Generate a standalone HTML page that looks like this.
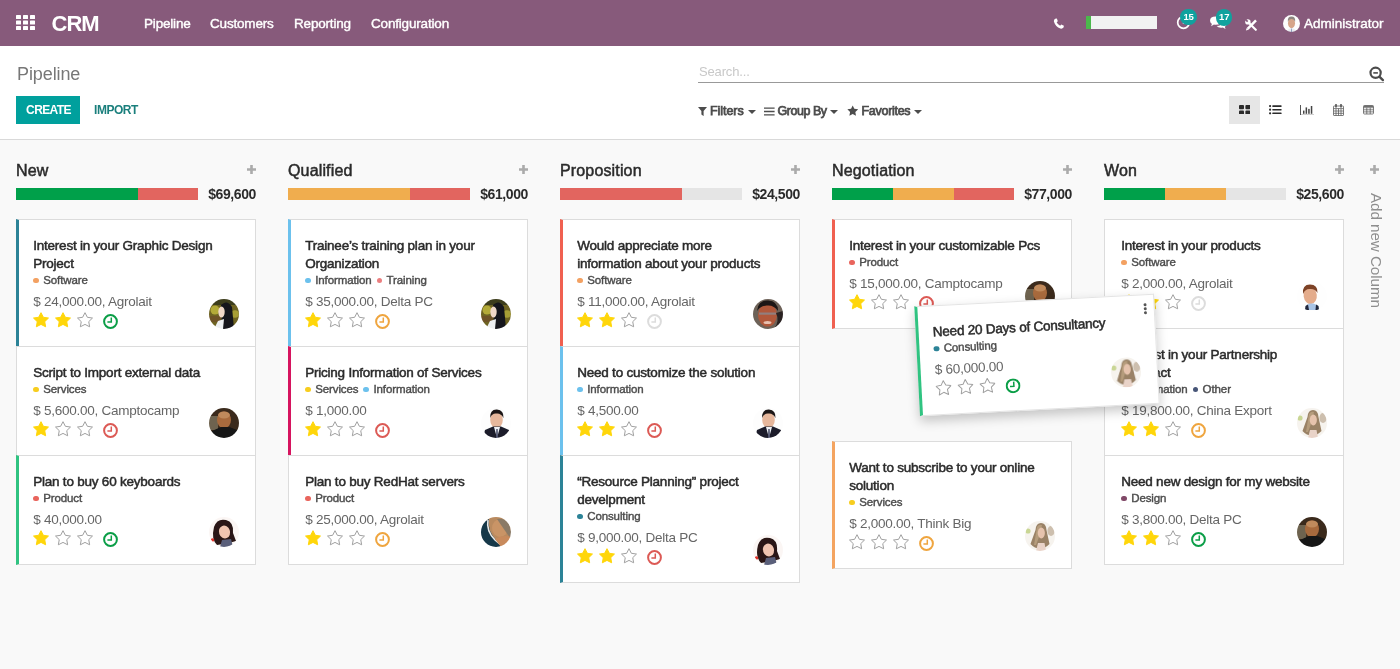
<!DOCTYPE html>
<html lang="en"><head><meta charset="utf-8"><title>Pipeline - CRM</title>
<style>
*{box-sizing:border-box;margin:0;padding:0}
html,body{width:1400px;height:669px;overflow:hidden;background:#f9f9f9;font-family:"Liberation Sans",sans-serif;font-size:13px;color:#4c4c4c}
.abs{position:absolute}
.nav{position:absolute;left:0;top:0;width:1400px;height:46px;background:#875A7B;color:#fff}
.nav .apps{position:absolute;left:16px;top:15px;width:19px;height:15px}
.nav .brand{position:absolute;left:51.5px;top:10.5px;font-size:22px;line-height:26px;font-weight:bold;letter-spacing:-1px}
.nav .mi{position:absolute;top:15px;font-size:13.5px;line-height:18px;white-space:nowrap;-webkit-text-stroke:0.4px #fff;letter-spacing:-0.18px}
.nav .usr{position:absolute;left:1304px;top:15px;font-size:13.5px;line-height:18px;-webkit-text-stroke:0.4px #fff}
.badge{position:absolute;width:16.4px;height:16.4px;border-radius:9px;background:#10A29E;color:#fff;font-size:9.5px;font-weight:bold;line-height:16.4px;text-align:center;letter-spacing:-0.2px}
.cp{position:absolute;left:0;top:46px;width:1400px;height:94px;background:#fff;border-bottom:1px solid #d9d9d9}
.bc{position:absolute;left:17px;letter-spacing:-0.1px;top:62px;font-size:18px;line-height:24px;color:#777}
.srch{position:absolute;left:699px;top:64px;font-size:13px;line-height:16px;color:#c8c8c8;letter-spacing:-0.15px}
.sline{position:absolute;left:698px;top:82px;width:686px;height:1px;background:#999}
.btn-c{position:absolute;left:16px;top:96px;width:64px;height:28px;background:#00A09D;color:#fff;font-weight:bold;font-size:12px;line-height:29px;text-align:center;letter-spacing:-0.6px;padding-left:1px}
.btn-i{position:absolute;left:94px;top:96px;height:28px;color:#1a7f7c;font-weight:bold;font-size:12px;line-height:29px;letter-spacing:-0.45px}
.flt{position:absolute;top:103px;font-size:12.5px;line-height:16px;color:#4c4c4c;-webkit-text-stroke:0.75px #4c4c4c;white-space:nowrap;letter-spacing:-0.06px}
.caret{position:absolute;top:110px;width:0;height:0;border-left:4px solid transparent;border-right:4px solid transparent;border-top:4.6px solid #4c4c4c}
.vb{position:absolute;top:96px;width:31px;height:28px}
.vb.on{background:#e6e6e6}
.vb svg{position:absolute;left:9px;top:8px;width:13px;height:12px}
.board{position:absolute;left:0;top:140px;width:1400px;height:529px;background:#f9f9f9;overflow:hidden}
.col{position:absolute;top:0;width:240px}
.ch{position:absolute;left:0;top:19px;width:240px;height:24px}
.ct{position:absolute;left:0;top:0;font-size:16px;line-height:24px;color:#2b2b2b;-webkit-text-stroke:0.5px #2b2b2b;white-space:nowrap;letter-spacing:0.15px}
.pl{position:absolute;left:231px;top:6px;width:9px;height:9px}
.pb{position:absolute;left:0;top:48px;width:240px;height:12px}
.bar{position:absolute;left:0;top:0;height:12px;width:182px;display:flex}
.bar i{display:block;height:12px}
.tot{position:absolute;right:0;top:-3px;font-size:14px;line-height:18px;font-weight:bold;color:#2b2b2b;letter-spacing:-0.4px}
.cards{position:absolute;left:0;top:80px;width:240px}
.cd{position:relative;width:240px;background:#fff;border:1px solid #dcdcdc;margin-top:-1px;padding:17px 16px 17px 16.2px}
.gap{height:113px}
.tt{font-size:13.5px;line-height:18px;color:#2b2b2b;-webkit-text-stroke:0.5px #2b2b2b;white-space:nowrap;letter-spacing:-0.22px}
.tgs{height:14px;margin-top:0px;white-space:nowrap;font-size:11.5px;line-height:14px;color:#4c4c4c;-webkit-text-stroke:0.4px #4c4c4c;letter-spacing:-0.1px}
.tg{margin-right:5px}
.tg i{display:inline-block;width:5.6px;height:5.6px;border-radius:3px;margin-right:4.4px;vertical-align:0.6px}
.am{font-size:13.5px;line-height:18px;margin-top:6px;color:#666;white-space:nowrap;letter-spacing:-0.25px}
.bt{height:18px;margin-top:0px;white-space:nowrap;font-size:0}
.st{width:16px;height:15.4px;margin-right:5.75px;vertical-align:top;margin-top:1.4px}
.ck{width:15px;height:15px;margin-left:4.4px;vertical-align:top;margin-top:2.7px}
.av{position:absolute;right:16px;bottom:17px;width:30px;height:30px}
.fl{position:absolute;left:917px;top:159.8px;transform:rotate(-3deg);box-shadow:0 5px 12px rgba(0,0,0,.22);border-color:#e4e4e4;margin-top:0;z-index:5}
.kb{position:absolute;right:7.3px;top:8px;width:3px}
.kb i{display:block;width:2.8px;height:2.8px;border-radius:2px;background:#555;margin-bottom:1.2px}
.addc{position:absolute;left:1360px;top:0;width:40px;height:529px}
.pl2{position:absolute;left:10px;top:25px;width:9px;height:9px}
.act{position:absolute;left:6px;top:52.5px;width:20px;writing-mode:vertical-rl;font-size:15.2px;line-height:20px;color:#8e8e8e;white-space:nowrap;letter-spacing:-0.05px}

</style></head>
<body>
<svg width="0" height="0" style="position:absolute"><clipPath id="cc"><circle cx="15" cy="15" r="15"/></clipPath><filter id="bl" x="-10%" y="-10%" width="120%" height="120%"><feGaussianBlur stdDeviation="0.7"/></filter></svg>
<div class="nav">
 <svg class="apps" viewBox="0 0 19 15"><g fill="#fff"><rect x="0" y="0" width="5" height="4" rx=".6"/><rect x="7" y="0" width="5" height="4" rx=".6"/><rect x="14" y="0" width="5" height="4" rx=".6"/><rect x="0" y="5.5" width="5" height="4" rx=".6"/><rect x="7" y="5.5" width="5" height="4" rx=".6"/><rect x="14" y="5.5" width="5" height="4" rx=".6"/><rect x="0" y="11" width="5" height="4" rx=".6"/><rect x="7" y="11" width="5" height="4" rx=".6"/><rect x="14" y="11" width="5" height="4" rx=".6"/></g></svg>
 <div class="brand">CRM</div>
 <div class="mi" style="left:144px">Pipeline</div>
 <div class="mi" style="left:210px">Customers</div>
 <div class="mi" style="left:294px">Reporting</div>
 <div class="mi" style="left:371px">Configuration</div>
 <svg class="abs" style="left:1052.8px;top:17.5px;width:11.6px;height:11.6px" viewBox="0 0 12 12"><path d="M2.2 0.8 L4 0.5 L5 3.3 L3.8 4.3 Q4.8 6.6 7.4 8 L8.5 6.8 L11.3 8 L10.9 9.9 Q9.6 11.5 7.6 10.9 Q2.6 9 1 3.9 Q0.6 1.8 2.2 0.8Z" fill="#fff"/></svg>
 <div class="abs" style="left:1086px;top:16px;width:71px;height:13px;background:#f2f2f2"><div style="width:5.4px;height:13px;background:#4cb84c"></div></div>
 <svg class="abs" style="left:1176px;top:15px;width:15px;height:15px" viewBox="0 0 15 15"><circle cx="7.5" cy="7.5" r="5.8" fill="none" stroke="#fff" stroke-width="1.7"/><path d="M7.5 4 V8 H10" fill="none" stroke="#fff" stroke-width="1.4"/></svg>
 <div class="badge" style="left:1180.4px;top:8.6px">15</div>
 <svg class="abs" style="left:1208.6px;top:15.4px;width:18.6px;height:15.5px" viewBox="0 0 18 15"><path d="M1 5.5 Q1 1.5 6.5 1.5 Q12 1.5 12 5.5 Q12 9.5 6.5 9.5 Q5.6 9.5 4.8 9.3 L2 10.8 L2.8 8.6 Q1 7.4 1 5.5Z" fill="#fff"/><path d="M13.3 5 Q17 5.8 17 8.6 Q17 10.4 15.3 11.4 L16 13.5 L13.4 12.2 Q12.6 12.4 11.6 12.4 Q8.6 12.4 7.4 10.7 Q13 10.5 13.3 5Z" fill="#fff"/></svg>
 <div class="badge" style="left:1216px;top:9.4px">17</div>
 <svg class="abs" style="left:1245px;top:19px;width:12.4px;height:12.4px" viewBox="0 0 12.4 12.4"><path d="M3 3 L10.8 10.8" stroke="#fff" stroke-width="2.1" stroke-linecap="round"/><circle cx="2.9" cy="2.9" r="2.7" fill="#fff"/><path d="M2.7 2.7 L-0.5 -0.5" stroke="#875A7B" stroke-width="1.7"/><path d="M11 1.4 L2.6 9.8" stroke="#fff" stroke-width="2.5" stroke-linecap="butt"/><path d="M0.9 11.5 L1.7 8.9 L3.5 10.7Z" fill="#fff"/></svg>
 <svg class="abs" style="left:1283px;top:14.5px;width:17px;height:17px" viewBox="0 0 30 30"><g clip-path="url(#cc)"><g filter="url(#bl)"><rect width="30" height="30" fill="#fdfdfd"/> <ellipse cx="15" cy="14.5" rx="6.2" ry="9" fill="#d6a58a"/> <path d="M8.6 12 Q7.5 2.5 15 2.5 Q22.5 2.5 21.4 12 Q19.5 6.5 15 7 Q10.5 6.5 8.6 12Z" fill="#8d8680"/> <path d="M7 30 L9 25.5 L13 23.5 L17 23.5 L21 25.5 L23 30Z" fill="#e9ecf1"/> <path d="M14.3 24 L15.7 24 L16 30 L14 30Z" fill="#8e9dbd"/></g></g></svg>
 <div class="usr">Administrator</div>
</div>
<div class="cp"></div>
<div class="bc">Pipeline</div>
<div class="srch">Search...</div>
<div class="sline"></div>
<svg class="abs" style="left:1369px;top:66px;width:16px;height:16px" viewBox="0 0 16 16"><circle cx="6.6" cy="6.8" r="5.1" fill="none" stroke="#4c4c4c" stroke-width="2.2"/><path d="M10.6 10.8 L13.9 14.1" stroke="#4c4c4c" stroke-width="2.4" stroke-linecap="round"/><path d="M4.3 6.9 H8.9" stroke="#555" stroke-width="1.7"/></svg>
<div class="btn-c">CREATE</div>
<div class="btn-i">IMPORT</div>
<svg class="abs" style="left:698px;top:106.8px;width:9px;height:9.2px" viewBox="0 0 9 9"><path d="M0 0 H9 L5.6 4 V9 L3.4 7.4 V4Z" fill="#4c4c4c"/></svg>
<div class="flt" style="left:710px">Filters</div><div class="caret" style="left:748px"></div>
<svg class="abs" style="left:764px;top:106.6px;width:10.6px;height:9px" viewBox="0 0 11 9"><path d="M0 1 H11 M0 4.5 H11 M0 8 H11" stroke="#4c4c4c" stroke-width="1.5"/></svg>
<div class="flt" style="left:777.5px;letter-spacing:-0.47px">Group By</div><div class="caret" style="left:830px"></div>
<svg class="abs" style="left:846.8px;top:105px;width:11.4px;height:11.4px" viewBox="0 0 16 16"><path d="M8 0.6 L10.3 5.4 L15.5 6.1 L11.7 9.8 L12.6 15 L8 12.5 L3.4 15 L4.3 9.8 L0.5 6.1 L5.7 5.4 Z" fill="#4c4c4c"/></svg>
<div class="flt" style="left:861.5px;letter-spacing:-0.29px">Favorites</div><div class="caret" style="left:914px"></div>
<div class="vb on" style="left:1229px"></div>
<svg class="abs" style="left:1238.9px;top:104.7px;width:11.4px;height:9.8px" viewBox="0 0 11.4 9.8"><g fill="#2b2b2b"><rect x="0" y="0" width="5" height="4.2" rx=".9"/><rect x="6.4" y="0" width="5" height="4.2" rx=".9"/><rect x="0" y="5.6" width="5" height="4.2" rx=".9"/><rect x="6.4" y="5.6" width="5" height="4.2" rx=".9"/></g></svg>
<svg class="abs" style="left:1269.2px;top:105.2px;width:12.6px;height:9.4px" viewBox="0 0 12.6 9.4"><g fill="#2b2b2b"><circle cx="1.1" cy="1.1" r="1.1"/><circle cx="1.1" cy="4.7" r="1.1"/><circle cx="1.1" cy="8.3" r="1.1"/><rect x="3.3" y="0.3" width="9.3" height="1.6" rx=".4"/><rect x="3.3" y="3.9" width="9.3" height="1.6" rx=".4"/><rect x="3.3" y="7.5" width="9.3" height="1.6" rx=".4"/></g></svg>
<svg class="abs" style="left:1299.8px;top:104.6px;width:14.2px;height:10.6px" viewBox="0 0 14.2 10.6"><g fill="#444"><path d="M0 0 H0.9 V9.7 H14.2 V10.6 H0Z"/><rect x="3" y="5.6" width="1.5" height="3.2"/><rect x="5.6" y="2.4" width="1.5" height="6.4"/><rect x="8.2" y="3.9" width="1.5" height="4.9"/><rect x="10.8" y="1" width="1.5" height="7.8"/></g></svg>
<svg class="abs" style="left:1333px;top:104px;width:11px;height:12px" viewBox="0 0 11 12"><g fill="none" stroke="#555" stroke-width="0.75"><rect x="0.5" y="2" width="10" height="9.5" rx=".5"/><path d="M0.5 4.6 H10.5 M0.5 7 H10.5 M0.5 9.3 H10.5 M3 4.6 V11.5 M5.5 4.6 V11.5 M8 4.6 V11.5"/><path d="M3 0.5 V3 M8 0.5 V3" stroke-width="1.5" stroke-linecap="round" stroke="#4a4a4a"/></g></svg>
<svg class="abs" style="left:1363px;top:105px;width:11px;height:9.5px" viewBox="0 0 11 9.5"><g fill="none" stroke="#555" stroke-width="0.75"><rect x="0.5" y="0.5" width="10" height="8.5" rx=".9"/><path d="M0.5 2.7 H10.5 M0.5 4.8 H10.5 M0.5 6.9 H10.5 M3.8 2.7 V9 M7.2 2.7 V9"/><path d="M0.8 1.3 H10.2" stroke-width="1" stroke="#4a4a4a"/></g></svg>
<div class="board">
<div class="col" style="left:16px"><div class="ch"><span class="ct">New</span><svg class="pl" viewBox="0 0 9 9"><path d="M4.5 0V9M0 4.5H9" stroke="#ababab" stroke-width="2.6"/></svg></div><div class="pb"><span class="bar"><i style="background:#00A04A;width:122px"></i><i style="background:#E2655F;width:60px"></i></span><span class="tot">$69,600</span></div><div class="cards"><div class="cd" style="border-left:3px solid #2C8397;padding-left:14.2px"><div class="tt">Interest in your Graphic Design<br>Project</div><div class="tgs"><span class="tg"><i style="background:#F3A162"></i>Software</span></div><div class="am">$ 24,000.00, Agrolait</div><div class="bt"><svg class="st" viewBox="0 0 16 15.4"><path d="M8 0.7 L10.35 5.3 L15.5 6.05 L11.75 9.65 L12.65 14.8 L8 12.4 L3.35 14.8 L4.25 9.65 L0.5 6.05 L5.65 5.3 Z" fill="#FFD60A" stroke="#FFD60A" stroke-width="1" stroke-linejoin="round"/></svg><svg class="st" viewBox="0 0 16 15.4"><path d="M8 0.7 L10.35 5.3 L15.5 6.05 L11.75 9.65 L12.65 14.8 L8 12.4 L3.35 14.8 L4.25 9.65 L0.5 6.05 L5.65 5.3 Z" fill="#FFD60A" stroke="#FFD60A" stroke-width="1" stroke-linejoin="round"/></svg><svg class="st" viewBox="0 0 16 15.4"><path d="M8 0.7 L10.35 5.3 L15.5 6.05 L11.75 9.65 L12.65 14.8 L8 12.4 L3.35 14.8 L4.25 9.65 L0.5 6.05 L5.65 5.3 Z" fill="#fff" stroke="#a0a0a0" stroke-width="1" stroke-linejoin="round"/></svg><svg class="ck" viewBox="0 0 15 15"><circle cx="7.5" cy="7.5" r="6.4" fill="none" stroke="#0B9E47" stroke-width="2"/><path d="M8.3 3.4 V8.1 H4.4" fill="none" stroke="#0B9E47" stroke-width="1.5"/></svg></div><svg class="av" viewBox="0 0 30 30"><g clip-path="url(#cc)"><g filter="url(#bl)"><rect width="30" height="30" fill="#6e6420"/><rect width="30" height="6" fill="#3c3d1c"/> <circle cx="6" cy="11" r="4.5" fill="#b3aa38"/><circle cx="26" cy="15" r="3.8" fill="#a79e36"/><rect x="0" y="17" width="12" height="6" fill="#6e5228"/> <path d="M12 6 Q18 0 23 8 L25 30 L13 30 Z" fill="#15171a"/> <ellipse cx="12.5" cy="13" rx="3.2" ry="5.5" fill="#f1d9c8"/> <path d="M5 30 L9 22 L15 20 L14 30 Z" fill="#eef0f2"/></g></g></svg></div><div class="cd"><div class="tt">Script to Import external data</div><div class="tgs"><span class="tg"><i style="background:#F7CD1F"></i>Services</span></div><div class="am">$ 5,600.00, Camptocamp</div><div class="bt"><svg class="st" viewBox="0 0 16 15.4"><path d="M8 0.7 L10.35 5.3 L15.5 6.05 L11.75 9.65 L12.65 14.8 L8 12.4 L3.35 14.8 L4.25 9.65 L0.5 6.05 L5.65 5.3 Z" fill="#FFD60A" stroke="#FFD60A" stroke-width="1" stroke-linejoin="round"/></svg><svg class="st" viewBox="0 0 16 15.4"><path d="M8 0.7 L10.35 5.3 L15.5 6.05 L11.75 9.65 L12.65 14.8 L8 12.4 L3.35 14.8 L4.25 9.65 L0.5 6.05 L5.65 5.3 Z" fill="#fff" stroke="#a0a0a0" stroke-width="1" stroke-linejoin="round"/></svg><svg class="st" viewBox="0 0 16 15.4"><path d="M8 0.7 L10.35 5.3 L15.5 6.05 L11.75 9.65 L12.65 14.8 L8 12.4 L3.35 14.8 L4.25 9.65 L0.5 6.05 L5.65 5.3 Z" fill="#fff" stroke="#a0a0a0" stroke-width="1" stroke-linejoin="round"/></svg><svg class="ck" viewBox="0 0 15 15"><circle cx="7.5" cy="7.5" r="6.4" fill="none" stroke="#DC5A55" stroke-width="2"/><path d="M8.3 3.4 V8.1 H4.4" fill="none" stroke="#DC5A55" stroke-width="1.5"/></svg></div><svg class="av" viewBox="0 0 30 30"><g clip-path="url(#cc)"><g filter="url(#bl)"><rect width="30" height="30" fill="#3a2a1c"/> <rect x="0" y="8" width="9" height="14" fill="#6e6450"/> <ellipse cx="15" cy="12" rx="7" ry="8.5" fill="#a86a3c"/> <ellipse cx="15" cy="7" rx="6" ry="3.5" fill="#c08a5c"/> <path d="M0 30 L3 23 L12 19 L20 19 L28 22 L30 30 Z" fill="#141414"/></g></g></svg></div><div class="cd" style="border-left:3px solid #30C381;padding-left:14.2px"><div class="tt">Plan to buy 60 keyboards</div><div class="tgs"><span class="tg"><i style="background:#E9655D"></i>Product</span></div><div class="am">$ 40,000.00</div><div class="bt"><svg class="st" viewBox="0 0 16 15.4"><path d="M8 0.7 L10.35 5.3 L15.5 6.05 L11.75 9.65 L12.65 14.8 L8 12.4 L3.35 14.8 L4.25 9.65 L0.5 6.05 L5.65 5.3 Z" fill="#FFD60A" stroke="#FFD60A" stroke-width="1" stroke-linejoin="round"/></svg><svg class="st" viewBox="0 0 16 15.4"><path d="M8 0.7 L10.35 5.3 L15.5 6.05 L11.75 9.65 L12.65 14.8 L8 12.4 L3.35 14.8 L4.25 9.65 L0.5 6.05 L5.65 5.3 Z" fill="#fff" stroke="#a0a0a0" stroke-width="1" stroke-linejoin="round"/></svg><svg class="st" viewBox="0 0 16 15.4"><path d="M8 0.7 L10.35 5.3 L15.5 6.05 L11.75 9.65 L12.65 14.8 L8 12.4 L3.35 14.8 L4.25 9.65 L0.5 6.05 L5.65 5.3 Z" fill="#fff" stroke="#a0a0a0" stroke-width="1" stroke-linejoin="round"/></svg><svg class="ck" viewBox="0 0 15 15"><circle cx="7.5" cy="7.5" r="6.4" fill="none" stroke="#0B9E47" stroke-width="2"/><path d="M8.3 3.4 V8.1 H4.4" fill="none" stroke="#0B9E47" stroke-width="1.5"/></svg></div><svg class="av" viewBox="0 0 30 30"><g clip-path="url(#cc)"><g filter="url(#bl)"><rect width="30" height="30" fill="#fbf6f4"/> <path d="M5 10 Q8 1 17 3 Q25 5 24 16 L27 24 L20 26 L8 28 Q2 22 5 10Z" fill="#2a1816"/> <ellipse cx="15.5" cy="15" rx="5.5" ry="6.5" fill="#f0c4b0" transform="rotate(-20 15.5 15)"/> <path d="M11 30 L13 23 L22 22 L24 30 Z" fill="#5a5f7a"/> <circle cx="3.5" cy="23" r="1.8" fill="#e0302a"/></g></g></svg></div></div></div>
<div class="col" style="left:288px"><div class="ch"><span class="ct">Qualified</span><svg class="pl" viewBox="0 0 9 9"><path d="M4.5 0V9M0 4.5H9" stroke="#ababab" stroke-width="2.6"/></svg></div><div class="pb"><span class="bar"><i style="background:#F0AD4E;width:122px"></i><i style="background:#E2655F;width:60px"></i></span><span class="tot">$61,000</span></div><div class="cards"><div class="cd" style="border-left:3px solid #6CC1ED;padding-left:14.2px"><div class="tt">Trainee’s training plan in your<br>Organization</div><div class="tgs"><span class="tg"><i style="background:#6CC1ED"></i>Information</span><span class="tg"><i style="background:#EB7E7F"></i>Training</span></div><div class="am">$ 35,000.00, Delta PC</div><div class="bt"><svg class="st" viewBox="0 0 16 15.4"><path d="M8 0.7 L10.35 5.3 L15.5 6.05 L11.75 9.65 L12.65 14.8 L8 12.4 L3.35 14.8 L4.25 9.65 L0.5 6.05 L5.65 5.3 Z" fill="#FFD60A" stroke="#FFD60A" stroke-width="1" stroke-linejoin="round"/></svg><svg class="st" viewBox="0 0 16 15.4"><path d="M8 0.7 L10.35 5.3 L15.5 6.05 L11.75 9.65 L12.65 14.8 L8 12.4 L3.35 14.8 L4.25 9.65 L0.5 6.05 L5.65 5.3 Z" fill="#fff" stroke="#a0a0a0" stroke-width="1" stroke-linejoin="round"/></svg><svg class="st" viewBox="0 0 16 15.4"><path d="M8 0.7 L10.35 5.3 L15.5 6.05 L11.75 9.65 L12.65 14.8 L8 12.4 L3.35 14.8 L4.25 9.65 L0.5 6.05 L5.65 5.3 Z" fill="#fff" stroke="#a0a0a0" stroke-width="1" stroke-linejoin="round"/></svg><svg class="ck" viewBox="0 0 15 15"><circle cx="7.5" cy="7.5" r="6.4" fill="none" stroke="#EFA53F" stroke-width="2"/><path d="M8.3 3.4 V8.1 H4.4" fill="none" stroke="#EFA53F" stroke-width="1.5"/></svg></div><svg class="av" viewBox="0 0 30 30"><g clip-path="url(#cc)"><g filter="url(#bl)"><rect width="30" height="30" fill="#6e6420"/><rect width="30" height="6" fill="#3c3d1c"/> <circle cx="6" cy="11" r="4.5" fill="#b3aa38"/><circle cx="26" cy="15" r="3.8" fill="#a79e36"/><rect x="0" y="17" width="12" height="6" fill="#6e5228"/> <path d="M12 6 Q18 0 23 8 L25 30 L13 30 Z" fill="#15171a"/> <ellipse cx="12.5" cy="13" rx="3.2" ry="5.5" fill="#f1d9c8"/> <path d="M5 30 L9 22 L15 20 L14 30 Z" fill="#eef0f2"/></g></g></svg></div><div class="cd" style="border-left:3px solid #D6145F;padding-left:14.2px"><div class="tt">Pricing Information of Services</div><div class="tgs"><span class="tg"><i style="background:#F7CD1F"></i>Services</span><span class="tg"><i style="background:#6CC1ED"></i>Information</span></div><div class="am">$ 1,000.00</div><div class="bt"><svg class="st" viewBox="0 0 16 15.4"><path d="M8 0.7 L10.35 5.3 L15.5 6.05 L11.75 9.65 L12.65 14.8 L8 12.4 L3.35 14.8 L4.25 9.65 L0.5 6.05 L5.65 5.3 Z" fill="#FFD60A" stroke="#FFD60A" stroke-width="1" stroke-linejoin="round"/></svg><svg class="st" viewBox="0 0 16 15.4"><path d="M8 0.7 L10.35 5.3 L15.5 6.05 L11.75 9.65 L12.65 14.8 L8 12.4 L3.35 14.8 L4.25 9.65 L0.5 6.05 L5.65 5.3 Z" fill="#fff" stroke="#a0a0a0" stroke-width="1" stroke-linejoin="round"/></svg><svg class="st" viewBox="0 0 16 15.4"><path d="M8 0.7 L10.35 5.3 L15.5 6.05 L11.75 9.65 L12.65 14.8 L8 12.4 L3.35 14.8 L4.25 9.65 L0.5 6.05 L5.65 5.3 Z" fill="#fff" stroke="#a0a0a0" stroke-width="1" stroke-linejoin="round"/></svg><svg class="ck" viewBox="0 0 15 15"><circle cx="7.5" cy="7.5" r="6.4" fill="none" stroke="#DC5A55" stroke-width="2"/><path d="M8.3 3.4 V8.1 H4.4" fill="none" stroke="#DC5A55" stroke-width="1.5"/></svg></div><svg class="av" viewBox="0 0 30 30"><g clip-path="url(#cc)"><g filter="url(#bl)"><rect width="30" height="30" fill="#fdfdfd"/> <ellipse cx="15.5" cy="12" rx="6.3" ry="8" fill="#e6b79c"/> <path d="M9 10 Q9 1 16 1.5 Q23 2 22.5 10 Q20 5 15.5 5.5 Q11 5 9 10Z" fill="#1c1716"/> <path d="M2 30 L4 22 L12 18.5 L20 18.5 L28 22 L30 30Z" fill="#1b1e2b"/> <path d="M13 19 L16 30 L19 19Z" fill="#eef0f5"/><path d="M15.3 21 L16.7 21 L17 30 L15 30Z" fill="#4a4f6a"/></g></g></svg></div><div class="cd"><div class="tt">Plan to buy RedHat servers</div><div class="tgs"><span class="tg"><i style="background:#E9655D"></i>Product</span></div><div class="am">$ 25,000.00, Agrolait</div><div class="bt"><svg class="st" viewBox="0 0 16 15.4"><path d="M8 0.7 L10.35 5.3 L15.5 6.05 L11.75 9.65 L12.65 14.8 L8 12.4 L3.35 14.8 L4.25 9.65 L0.5 6.05 L5.65 5.3 Z" fill="#FFD60A" stroke="#FFD60A" stroke-width="1" stroke-linejoin="round"/></svg><svg class="st" viewBox="0 0 16 15.4"><path d="M8 0.7 L10.35 5.3 L15.5 6.05 L11.75 9.65 L12.65 14.8 L8 12.4 L3.35 14.8 L4.25 9.65 L0.5 6.05 L5.65 5.3 Z" fill="#fff" stroke="#a0a0a0" stroke-width="1" stroke-linejoin="round"/></svg><svg class="st" viewBox="0 0 16 15.4"><path d="M8 0.7 L10.35 5.3 L15.5 6.05 L11.75 9.65 L12.65 14.8 L8 12.4 L3.35 14.8 L4.25 9.65 L0.5 6.05 L5.65 5.3 Z" fill="#fff" stroke="#a0a0a0" stroke-width="1" stroke-linejoin="round"/></svg><svg class="ck" viewBox="0 0 15 15"><circle cx="7.5" cy="7.5" r="6.4" fill="none" stroke="#EFA53F" stroke-width="2"/><path d="M8.3 3.4 V8.1 H4.4" fill="none" stroke="#EFA53F" stroke-width="1.5"/></svg></div><svg class="av" viewBox="0 0 30 30"><g clip-path="url(#cc)"><g filter="url(#bl)"><rect width="30" height="30" fill="#b98a5e"/> <ellipse cx="19" cy="11" rx="8" ry="9" fill="#c99466"/> <path d="M16 2 Q28 0 30 14 L30 22 Q24 14 16 2Z" fill="#8a7a66"/> <path d="M0 6 L8 2 Q6 14 16 24 L22 30 L0 30Z" fill="#173748"/> <path d="M7 3 Q5 14 14 23 L20 28" fill="none" stroke="#e8e8e6" stroke-width="1.6"/> <path d="M14 22 Q22 17 30 20 L30 30 L20 30Z" fill="#c88a5c"/></g></g></svg></div></div></div>
<div class="col" style="left:560px"><div class="ch"><span class="ct">Proposition</span><svg class="pl" viewBox="0 0 9 9"><path d="M4.5 0V9M0 4.5H9" stroke="#ababab" stroke-width="2.6"/></svg></div><div class="pb"><span class="bar"><i style="background:#E2655F;width:122px"></i><i style="background:#E5E5E5;width:60px"></i></span><span class="tot">$24,500</span></div><div class="cards"><div class="cd" style="border-left:3px solid #F06050;padding-left:14.2px"><div class="tt">Would appreciate more<br>information about your products</div><div class="tgs"><span class="tg"><i style="background:#F3A162"></i>Software</span></div><div class="am">$ 11,000.00, Agrolait</div><div class="bt"><svg class="st" viewBox="0 0 16 15.4"><path d="M8 0.7 L10.35 5.3 L15.5 6.05 L11.75 9.65 L12.65 14.8 L8 12.4 L3.35 14.8 L4.25 9.65 L0.5 6.05 L5.65 5.3 Z" fill="#FFD60A" stroke="#FFD60A" stroke-width="1" stroke-linejoin="round"/></svg><svg class="st" viewBox="0 0 16 15.4"><path d="M8 0.7 L10.35 5.3 L15.5 6.05 L11.75 9.65 L12.65 14.8 L8 12.4 L3.35 14.8 L4.25 9.65 L0.5 6.05 L5.65 5.3 Z" fill="#FFD60A" stroke="#FFD60A" stroke-width="1" stroke-linejoin="round"/></svg><svg class="st" viewBox="0 0 16 15.4"><path d="M8 0.7 L10.35 5.3 L15.5 6.05 L11.75 9.65 L12.65 14.8 L8 12.4 L3.35 14.8 L4.25 9.65 L0.5 6.05 L5.65 5.3 Z" fill="#fff" stroke="#a0a0a0" stroke-width="1" stroke-linejoin="round"/></svg><svg class="ck" viewBox="0 0 15 15"><circle cx="7.5" cy="7.5" r="6.4" fill="none" stroke="#DCDCDC" stroke-width="2"/><path d="M8.3 3.4 V8.1 H4.4" fill="none" stroke="#DCDCDC" stroke-width="1.5"/></svg></div><svg class="av" viewBox="0 0 30 30"><g clip-path="url(#cc)"><g filter="url(#bl)"><rect width="30" height="30" fill="#6d6258"/> <ellipse cx="14.5" cy="16" rx="9.5" ry="11.5" fill="#b0583a"/> <path d="M4 12 Q5 1 15 1.5 Q25 2 25 12 Q21 6 14.5 6.5 Q8 6 4 12Z" fill="#1c1412"/> <rect x="6" y="13.5" width="17" height="2.2" fill="#8a8a90" opacity=".8"/> <ellipse cx="14.5" cy="23.5" rx="4" ry="1.6" fill="#e8c0b0"/> <path d="M23 14 Q27 22 21 30 L30 30 L30 12Z" fill="#2a2220"/></g></g></svg></div><div class="cd" style="border-left:3px solid #6CC1ED;padding-left:14.2px"><div class="tt">Need to customize the solution</div><div class="tgs"><span class="tg"><i style="background:#6CC1ED"></i>Information</span></div><div class="am">$ 4,500.00</div><div class="bt"><svg class="st" viewBox="0 0 16 15.4"><path d="M8 0.7 L10.35 5.3 L15.5 6.05 L11.75 9.65 L12.65 14.8 L8 12.4 L3.35 14.8 L4.25 9.65 L0.5 6.05 L5.65 5.3 Z" fill="#FFD60A" stroke="#FFD60A" stroke-width="1" stroke-linejoin="round"/></svg><svg class="st" viewBox="0 0 16 15.4"><path d="M8 0.7 L10.35 5.3 L15.5 6.05 L11.75 9.65 L12.65 14.8 L8 12.4 L3.35 14.8 L4.25 9.65 L0.5 6.05 L5.65 5.3 Z" fill="#FFD60A" stroke="#FFD60A" stroke-width="1" stroke-linejoin="round"/></svg><svg class="st" viewBox="0 0 16 15.4"><path d="M8 0.7 L10.35 5.3 L15.5 6.05 L11.75 9.65 L12.65 14.8 L8 12.4 L3.35 14.8 L4.25 9.65 L0.5 6.05 L5.65 5.3 Z" fill="#fff" stroke="#a0a0a0" stroke-width="1" stroke-linejoin="round"/></svg><svg class="ck" viewBox="0 0 15 15"><circle cx="7.5" cy="7.5" r="6.4" fill="none" stroke="#DC5A55" stroke-width="2"/><path d="M8.3 3.4 V8.1 H4.4" fill="none" stroke="#DC5A55" stroke-width="1.5"/></svg></div><svg class="av" viewBox="0 0 30 30"><g clip-path="url(#cc)"><g filter="url(#bl)"><rect width="30" height="30" fill="#fdfdfd"/> <ellipse cx="15.5" cy="12" rx="6.3" ry="8" fill="#e6b79c"/> <path d="M9 10 Q9 1 16 1.5 Q23 2 22.5 10 Q20 5 15.5 5.5 Q11 5 9 10Z" fill="#1c1716"/> <path d="M2 30 L4 22 L12 18.5 L20 18.5 L28 22 L30 30Z" fill="#1b1e2b"/> <path d="M13 19 L16 30 L19 19Z" fill="#eef0f5"/><path d="M15.3 21 L16.7 21 L17 30 L15 30Z" fill="#4a4f6a"/></g></g></svg></div><div class="cd" style="border-left:3px solid #2C8397;padding-left:14.2px"><div class="tt">“Resource Planning” project<br>develpment</div><div class="tgs"><span class="tg"><i style="background:#2C8397"></i>Consulting</span></div><div class="am">$ 9,000.00, Delta PC</div><div class="bt"><svg class="st" viewBox="0 0 16 15.4"><path d="M8 0.7 L10.35 5.3 L15.5 6.05 L11.75 9.65 L12.65 14.8 L8 12.4 L3.35 14.8 L4.25 9.65 L0.5 6.05 L5.65 5.3 Z" fill="#FFD60A" stroke="#FFD60A" stroke-width="1" stroke-linejoin="round"/></svg><svg class="st" viewBox="0 0 16 15.4"><path d="M8 0.7 L10.35 5.3 L15.5 6.05 L11.75 9.65 L12.65 14.8 L8 12.4 L3.35 14.8 L4.25 9.65 L0.5 6.05 L5.65 5.3 Z" fill="#FFD60A" stroke="#FFD60A" stroke-width="1" stroke-linejoin="round"/></svg><svg class="st" viewBox="0 0 16 15.4"><path d="M8 0.7 L10.35 5.3 L15.5 6.05 L11.75 9.65 L12.65 14.8 L8 12.4 L3.35 14.8 L4.25 9.65 L0.5 6.05 L5.65 5.3 Z" fill="#fff" stroke="#a0a0a0" stroke-width="1" stroke-linejoin="round"/></svg><svg class="ck" viewBox="0 0 15 15"><circle cx="7.5" cy="7.5" r="6.4" fill="none" stroke="#DC5A55" stroke-width="2"/><path d="M8.3 3.4 V8.1 H4.4" fill="none" stroke="#DC5A55" stroke-width="1.5"/></svg></div><svg class="av" viewBox="0 0 30 30"><g clip-path="url(#cc)"><g filter="url(#bl)"><rect width="30" height="30" fill="#fbf6f4"/> <path d="M5 10 Q8 1 17 3 Q25 5 24 16 L27 24 L20 26 L8 28 Q2 22 5 10Z" fill="#2a1816"/> <ellipse cx="15.5" cy="15" rx="5.5" ry="6.5" fill="#f0c4b0" transform="rotate(-20 15.5 15)"/> <path d="M11 30 L13 23 L22 22 L24 30 Z" fill="#5a5f7a"/> <circle cx="3.5" cy="23" r="1.8" fill="#e0302a"/></g></g></svg></div></div></div>
<div class="col" style="left:832px"><div class="ch"><span class="ct">Negotiation</span><svg class="pl" viewBox="0 0 9 9"><path d="M4.5 0V9M0 4.5H9" stroke="#ababab" stroke-width="2.6"/></svg></div><div class="pb"><span class="bar"><i style="background:#00A04A;width:61px"></i><i style="background:#F0AD4E;width:61px"></i><i style="background:#E2655F;width:60px"></i></span><span class="tot">$77,000</span></div><div class="cards"><div class="cd" style="border-left:3px solid #F06050;padding-left:14.2px"><div class="tt">Interest in your customizable Pcs</div><div class="tgs"><span class="tg"><i style="background:#E9655D"></i>Product</span></div><div class="am">$ 15,000.00, Camptocamp</div><div class="bt"><svg class="st" viewBox="0 0 16 15.4"><path d="M8 0.7 L10.35 5.3 L15.5 6.05 L11.75 9.65 L12.65 14.8 L8 12.4 L3.35 14.8 L4.25 9.65 L0.5 6.05 L5.65 5.3 Z" fill="#FFD60A" stroke="#FFD60A" stroke-width="1" stroke-linejoin="round"/></svg><svg class="st" viewBox="0 0 16 15.4"><path d="M8 0.7 L10.35 5.3 L15.5 6.05 L11.75 9.65 L12.65 14.8 L8 12.4 L3.35 14.8 L4.25 9.65 L0.5 6.05 L5.65 5.3 Z" fill="#fff" stroke="#a0a0a0" stroke-width="1" stroke-linejoin="round"/></svg><svg class="st" viewBox="0 0 16 15.4"><path d="M8 0.7 L10.35 5.3 L15.5 6.05 L11.75 9.65 L12.65 14.8 L8 12.4 L3.35 14.8 L4.25 9.65 L0.5 6.05 L5.65 5.3 Z" fill="#fff" stroke="#a0a0a0" stroke-width="1" stroke-linejoin="round"/></svg><svg class="ck" viewBox="0 0 15 15"><circle cx="7.5" cy="7.5" r="6.4" fill="none" stroke="#DC5A55" stroke-width="2"/><path d="M8.3 3.4 V8.1 H4.4" fill="none" stroke="#DC5A55" stroke-width="1.5"/></svg></div><svg class="av" viewBox="0 0 30 30"><g clip-path="url(#cc)"><g filter="url(#bl)"><rect width="30" height="30" fill="#3a2a1c"/> <rect x="0" y="8" width="9" height="14" fill="#6e6450"/> <ellipse cx="15" cy="12" rx="7" ry="8.5" fill="#a86a3c"/> <ellipse cx="15" cy="7" rx="6" ry="3.5" fill="#c08a5c"/> <path d="M0 30 L3 23 L12 19 L20 19 L28 22 L30 30 Z" fill="#141414"/></g></g></svg></div><div class="gap"></div><div class="cd" style="border-left:3px solid #F4A460;padding-left:14.2px"><div class="tt">Want to subscribe to your online<br>solution</div><div class="tgs"><span class="tg"><i style="background:#F7CD1F"></i>Services</span></div><div class="am">$ 2,000.00, Think Big</div><div class="bt"><svg class="st" viewBox="0 0 16 15.4"><path d="M8 0.7 L10.35 5.3 L15.5 6.05 L11.75 9.65 L12.65 14.8 L8 12.4 L3.35 14.8 L4.25 9.65 L0.5 6.05 L5.65 5.3 Z" fill="#fff" stroke="#a0a0a0" stroke-width="1" stroke-linejoin="round"/></svg><svg class="st" viewBox="0 0 16 15.4"><path d="M8 0.7 L10.35 5.3 L15.5 6.05 L11.75 9.65 L12.65 14.8 L8 12.4 L3.35 14.8 L4.25 9.65 L0.5 6.05 L5.65 5.3 Z" fill="#fff" stroke="#a0a0a0" stroke-width="1" stroke-linejoin="round"/></svg><svg class="st" viewBox="0 0 16 15.4"><path d="M8 0.7 L10.35 5.3 L15.5 6.05 L11.75 9.65 L12.65 14.8 L8 12.4 L3.35 14.8 L4.25 9.65 L0.5 6.05 L5.65 5.3 Z" fill="#fff" stroke="#a0a0a0" stroke-width="1" stroke-linejoin="round"/></svg><svg class="ck" viewBox="0 0 15 15"><circle cx="7.5" cy="7.5" r="6.4" fill="none" stroke="#EFA53F" stroke-width="2"/><path d="M8.3 3.4 V8.1 H4.4" fill="none" stroke="#EFA53F" stroke-width="1.5"/></svg></div><svg class="av" viewBox="0 0 30 30"><g clip-path="url(#cc)"><g filter="url(#bl)"><rect width="30" height="30" fill="#f6f3ee"/> <circle cx="3" cy="10" r="2.6" fill="#c9d694"/><ellipse cx="26" cy="10" rx="3.6" ry="5" fill="#cdbfae"/> <path d="M10.5 9 Q11 2 16 2 Q21 2 21.5 9 L24.5 23 Q20 27.5 15 27.5 Q9.5 27.5 5.5 23 Z" fill="#9a8266"/> <path d="M12 6 Q14 3 17 4 L14 16 L11 24 L9 24Z" fill="#b59c7c"/> <ellipse cx="16.3" cy="12" rx="3.6" ry="5.4" fill="#e6c3ad"/> <path d="M11 30 L13 22 L19.5 22 L21 30Z" fill="#e9d3c8"/></g></g></svg></div></div></div>
<div class="col" style="left:1104px"><div class="ch"><span class="ct">Won</span><svg class="pl" viewBox="0 0 9 9"><path d="M4.5 0V9M0 4.5H9" stroke="#ababab" stroke-width="2.6"/></svg></div><div class="pb"><span class="bar"><i style="background:#00A04A;width:61px"></i><i style="background:#F0AD4E;width:61px"></i><i style="background:#E5E5E5;width:60px"></i></span><span class="tot">$25,600</span></div><div class="cards"><div class="cd"><div class="tt">Interest in your products</div><div class="tgs"><span class="tg"><i style="background:#F3A162"></i>Software</span></div><div class="am">$ 2,000.00, Agrolait</div><div class="bt"><svg class="st" viewBox="0 0 16 15.4"><path d="M8 0.7 L10.35 5.3 L15.5 6.05 L11.75 9.65 L12.65 14.8 L8 12.4 L3.35 14.8 L4.25 9.65 L0.5 6.05 L5.65 5.3 Z" fill="#FFD60A" stroke="#FFD60A" stroke-width="1" stroke-linejoin="round"/></svg><svg class="st" viewBox="0 0 16 15.4"><path d="M8 0.7 L10.35 5.3 L15.5 6.05 L11.75 9.65 L12.65 14.8 L8 12.4 L3.35 14.8 L4.25 9.65 L0.5 6.05 L5.65 5.3 Z" fill="#FFD60A" stroke="#FFD60A" stroke-width="1" stroke-linejoin="round"/></svg><svg class="st" viewBox="0 0 16 15.4"><path d="M8 0.7 L10.35 5.3 L15.5 6.05 L11.75 9.65 L12.65 14.8 L8 12.4 L3.35 14.8 L4.25 9.65 L0.5 6.05 L5.65 5.3 Z" fill="#fff" stroke="#a0a0a0" stroke-width="1" stroke-linejoin="round"/></svg><svg class="ck" viewBox="0 0 15 15"><circle cx="7.5" cy="7.5" r="6.4" fill="none" stroke="#DCDCDC" stroke-width="2"/><path d="M8.3 3.4 V8.1 H4.4" fill="none" stroke="#DCDCDC" stroke-width="1.5"/></svg></div><svg class="av" viewBox="0 0 30 30"><g clip-path="url(#cc)"><g filter="url(#bl)"><rect width="30" height="30" fill="#fefefe"/> <ellipse cx="13.2" cy="14.5" rx="6.6" ry="8.6" fill="#e4ac8c" transform="rotate(-8 13.2 14.5)"/> <path d="M6 13 Q5 3.5 13 3.5 Q21 3.5 20.5 12 Q18 7.5 13 8 Q8.5 7.5 6 13Z" fill="#7d4226"/> <path d="M8 29 L9 24.5 L12.5 22.5 L16.5 22.5 L21 24.5 L22 29Z" fill="#a9c4e6"/> <path d="M8 29 L8.5 25 L11 23.5 L12 29Z M22 29 L21.5 25 L19 23.5 L18.5 29Z" fill="#22283a"/></g></g></svg></div><div class="cd"><div class="tt">Interest in your Partnership<br>Contract</div><div class="tgs"><span class="tg"><i style="background:#6CC1ED"></i>Information</span><span class="tg"><i style="background:#475577"></i>Other</span></div><div class="am">$ 19,800.00, China Export</div><div class="bt"><svg class="st" viewBox="0 0 16 15.4"><path d="M8 0.7 L10.35 5.3 L15.5 6.05 L11.75 9.65 L12.65 14.8 L8 12.4 L3.35 14.8 L4.25 9.65 L0.5 6.05 L5.65 5.3 Z" fill="#FFD60A" stroke="#FFD60A" stroke-width="1" stroke-linejoin="round"/></svg><svg class="st" viewBox="0 0 16 15.4"><path d="M8 0.7 L10.35 5.3 L15.5 6.05 L11.75 9.65 L12.65 14.8 L8 12.4 L3.35 14.8 L4.25 9.65 L0.5 6.05 L5.65 5.3 Z" fill="#FFD60A" stroke="#FFD60A" stroke-width="1" stroke-linejoin="round"/></svg><svg class="st" viewBox="0 0 16 15.4"><path d="M8 0.7 L10.35 5.3 L15.5 6.05 L11.75 9.65 L12.65 14.8 L8 12.4 L3.35 14.8 L4.25 9.65 L0.5 6.05 L5.65 5.3 Z" fill="#fff" stroke="#a0a0a0" stroke-width="1" stroke-linejoin="round"/></svg><svg class="ck" viewBox="0 0 15 15"><circle cx="7.5" cy="7.5" r="6.4" fill="none" stroke="#EFA53F" stroke-width="2"/><path d="M8.3 3.4 V8.1 H4.4" fill="none" stroke="#EFA53F" stroke-width="1.5"/></svg></div><svg class="av" viewBox="0 0 30 30"><g clip-path="url(#cc)"><g filter="url(#bl)"><rect width="30" height="30" fill="#f6f3ee"/> <circle cx="3" cy="10" r="2.6" fill="#c9d694"/><ellipse cx="26" cy="10" rx="3.6" ry="5" fill="#cdbfae"/> <path d="M10.5 9 Q11 2 16 2 Q21 2 21.5 9 L24.5 23 Q20 27.5 15 27.5 Q9.5 27.5 5.5 23 Z" fill="#9a8266"/> <path d="M12 6 Q14 3 17 4 L14 16 L11 24 L9 24Z" fill="#b59c7c"/> <ellipse cx="16.3" cy="12" rx="3.6" ry="5.4" fill="#e6c3ad"/> <path d="M11 30 L13 22 L19.5 22 L21 30Z" fill="#e9d3c8"/></g></g></svg></div><div class="cd"><div class="tt">Need new design for my website</div><div class="tgs"><span class="tg"><i style="background:#814968"></i>Design</span></div><div class="am">$ 3,800.00, Delta PC</div><div class="bt"><svg class="st" viewBox="0 0 16 15.4"><path d="M8 0.7 L10.35 5.3 L15.5 6.05 L11.75 9.65 L12.65 14.8 L8 12.4 L3.35 14.8 L4.25 9.65 L0.5 6.05 L5.65 5.3 Z" fill="#FFD60A" stroke="#FFD60A" stroke-width="1" stroke-linejoin="round"/></svg><svg class="st" viewBox="0 0 16 15.4"><path d="M8 0.7 L10.35 5.3 L15.5 6.05 L11.75 9.65 L12.65 14.8 L8 12.4 L3.35 14.8 L4.25 9.65 L0.5 6.05 L5.65 5.3 Z" fill="#FFD60A" stroke="#FFD60A" stroke-width="1" stroke-linejoin="round"/></svg><svg class="st" viewBox="0 0 16 15.4"><path d="M8 0.7 L10.35 5.3 L15.5 6.05 L11.75 9.65 L12.65 14.8 L8 12.4 L3.35 14.8 L4.25 9.65 L0.5 6.05 L5.65 5.3 Z" fill="#fff" stroke="#a0a0a0" stroke-width="1" stroke-linejoin="round"/></svg><svg class="ck" viewBox="0 0 15 15"><circle cx="7.5" cy="7.5" r="6.4" fill="none" stroke="#0B9E47" stroke-width="2"/><path d="M8.3 3.4 V8.1 H4.4" fill="none" stroke="#0B9E47" stroke-width="1.5"/></svg></div><svg class="av" viewBox="0 0 30 30"><g clip-path="url(#cc)"><g filter="url(#bl)"><rect width="30" height="30" fill="#3a2a1c"/> <rect x="0" y="8" width="9" height="14" fill="#6e6450"/> <ellipse cx="15" cy="12" rx="7" ry="8.5" fill="#a86a3c"/> <ellipse cx="15" cy="7" rx="6" ry="3.5" fill="#c08a5c"/> <path d="M0 30 L3 23 L12 19 L20 19 L28 22 L30 30 Z" fill="#141414"/></g></g></svg></div></div></div>
<div class="cd fl" style="border-left:3px solid #30C381;padding-left:14.2px"><span class="kb"><i></i><i></i><i></i></span><div class="tt">Need 20 Days of Consultancy</div><div class="tgs"><span class="tg"><i style="background:#2C8397"></i>Consulting</span></div><div class="am">$ 60,000.00</div><div class="bt"><svg class="st" viewBox="0 0 16 15.4"><path d="M8 0.7 L10.35 5.3 L15.5 6.05 L11.75 9.65 L12.65 14.8 L8 12.4 L3.35 14.8 L4.25 9.65 L0.5 6.05 L5.65 5.3 Z" fill="#fff" stroke="#a0a0a0" stroke-width="1" stroke-linejoin="round"/></svg><svg class="st" viewBox="0 0 16 15.4"><path d="M8 0.7 L10.35 5.3 L15.5 6.05 L11.75 9.65 L12.65 14.8 L8 12.4 L3.35 14.8 L4.25 9.65 L0.5 6.05 L5.65 5.3 Z" fill="#fff" stroke="#a0a0a0" stroke-width="1" stroke-linejoin="round"/></svg><svg class="st" viewBox="0 0 16 15.4"><path d="M8 0.7 L10.35 5.3 L15.5 6.05 L11.75 9.65 L12.65 14.8 L8 12.4 L3.35 14.8 L4.25 9.65 L0.5 6.05 L5.65 5.3 Z" fill="#fff" stroke="#a0a0a0" stroke-width="1" stroke-linejoin="round"/></svg><svg class="ck" viewBox="0 0 15 15"><circle cx="7.5" cy="7.5" r="6.4" fill="none" stroke="#0B9E47" stroke-width="2"/><path d="M8.3 3.4 V8.1 H4.4" fill="none" stroke="#0B9E47" stroke-width="1.5"/></svg></div><svg class="av" viewBox="0 0 30 30"><g clip-path="url(#cc)"><g filter="url(#bl)"><rect width="30" height="30" fill="#f6f3ee"/> <circle cx="3" cy="10" r="2.6" fill="#c9d694"/><ellipse cx="26" cy="10" rx="3.6" ry="5" fill="#cdbfae"/> <path d="M10.5 9 Q11 2 16 2 Q21 2 21.5 9 L24.5 23 Q20 27.5 15 27.5 Q9.5 27.5 5.5 23 Z" fill="#9a8266"/> <path d="M12 6 Q14 3 17 4 L14 16 L11 24 L9 24Z" fill="#b59c7c"/> <ellipse cx="16.3" cy="12" rx="3.6" ry="5.4" fill="#e6c3ad"/> <path d="M11 30 L13 22 L19.5 22 L21 30Z" fill="#e9d3c8"/></g></g></svg></div>
<div class="addc"><svg class="pl2" viewBox="0 0 9 9"><path d="M4.5 0V9M0 4.5H9" stroke="#ababab" stroke-width="2.6"/></svg><div class="act">Add new Column</div></div>
</div>
</body></html>
